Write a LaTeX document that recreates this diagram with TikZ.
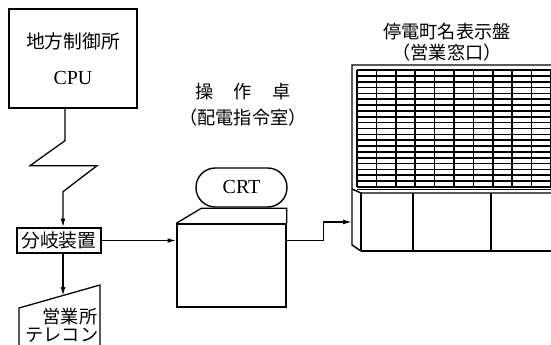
\documentclass[tikz,border=0pt]{standalone}
\usepackage{fontspec}
\setmainfont{Liberation Serif}
\newfontfamily\jpfont{Noto Sans CJK JP}
\usetikzlibrary{positioning, arrows.meta}
\tikzset{
    flecha/.style={draw, line width=1.1pt, -{Latex[length=7.5pt, width=4pt]}},
    linea/.style={draw, line width=1.1pt},
    etiqueta/.style={font=\jpfont\fontsize{15.5}{18}\selectfont, inner sep=0pt}
}

\begin{document}
\begin{tikzpicture}[
            x=0.03cm, y=-0.03cm,
            node distance=0.25cm,
            % Estilo base para las cajas
            base/.style={
                rectangle, draw, align=center, line width=1.2pt, inner sep=0pt
            },
            box_cpu/.style={
                base, minimum width=3.84cm, minimum height=2.97cm, font=\fontsize{17}{20}\selectfont
            },
            box_bunki/.style={
                base, minimum width=2.52cm, minimum height=0.75cm, font=\jpfont\fontsize{16}{18}\selectfont
            },
            box_consola/.style={
                base, minimum width=3.27cm, minimum height=2.49cm
            },
            % Pantalla (forma de pastilla)
            box_crt/.style={
                base, rounded corners=0.58cm, minimum width=2.73cm, minimum height=1.17cm, font=\fontsize{17}{20}\selectfont
            },
            rejilla/.style={line width=1.4pt},
            panel_borde/.style={line width=1.2pt}
        ]
            \useasboundingbox (0,0) rectangle (551,345);

            % 1. Centro de control
            \node[box_cpu] (cpu) at (73,58.5) {{\jpfont\fontsize{16}{18}\selectfont 地方制御所}\\[11pt] CPU};

            % 2. Bifurcacion
            \node[box_bunki] (bunki) at (59,240.5) {分岐装置};

            % Linea de comunicacion en zigzag
            \draw[flecha] ([xshift=-0.24cm]cpu.south) -- ++(0,32) -- ++(-35,25) -- ++(67,0)
                -- ++(-34,26) coordinate (zz) -- (zz |- bunki.north);

            % 3. Terminal de la oficina (entrada manual)
            \draw[linea] (19,352) -- (19,308) -- (100,285) -- (100,352);
            \coordinate (telecon) at (63,296);
            \node[etiqueta] (eigyo) at (70,317) {営業所};
            \node[etiqueta] (terecon) at (62,335) {テレコン};
            \draw[flecha] (bunki.south -| telecon) -- (telecon);

            % 4. Consola con pantalla
            \node[box_consola] (consola) at (231.5,265.5) {};
            \draw[linea] (consola.north west) -- ++(25,-15) -| (consola.north east);
            \node[box_crt] (crt) at (241.5,187.5) {CRT};

            \node[etiqueta] (sousa) at (243,92) {操\hspace{0.6cm}作\hspace{0.6cm}卓};
            \node[etiqueta, below=of sousa] (haichi) {（配電指令室）};

            \draw[flecha] (bunki.east) -- (bunki.east -| consola.west);

            % 5. Tablero de nombres
            \node[etiqueta] (teiden) at (447,32) {停電町名表示盤};
            \node[etiqueta, below=0.1cm of teiden] (madoguchi) {（営業窓口）};

            \draw[panel_borde] (361,251) -- (352,245) -- (352,65) -- (551,65);
            \draw[panel_borde] (361,251) -- (551,251);
            \foreach \i in {0,...,10}
                \draw[rejilla] (357+19.4*\i,70) -- (357+19.4*\i,187);
            \foreach \j in {0,...,20}
                \draw[rejilla] (357,70+5.85*\j) -- (551,70+5.85*\j);
            \draw[panel_borde] (357,189.5) -- (551,189.5);
            \draw[panel_borde] (352,189) -- (361,193) -- (551,193);
            \draw[panel_borde] (361,193) -- (361,251);
            \foreach \x in {413,491}
                \draw[panel_borde] (\x,193) -- (\x,251);

            \coordinate (panel_in) at (352,222);
            \draw[flecha] (bunki.east -| consola.east) -- ++(37,0) |- (panel_in);

\end{tikzpicture}
\end{document}
